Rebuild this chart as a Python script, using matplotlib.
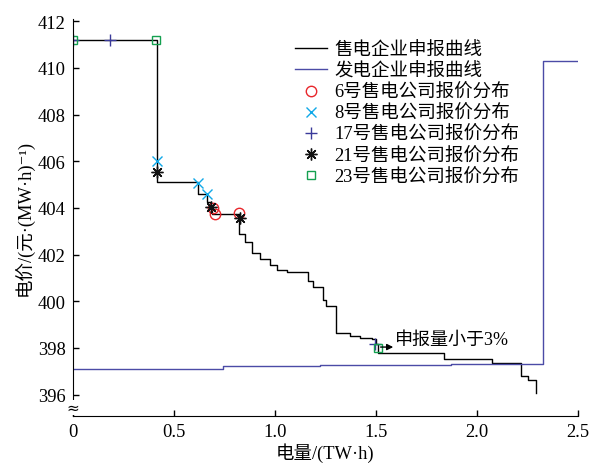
import matplotlib
matplotlib.use("Agg")
import matplotlib.pyplot as plt

plt.rcParams['font.family'] = ['Liberation Serif', 'Noto Sans CJK SC', 'DejaVu Sans']
plt.rcParams['axes.unicode_minus'] = False

# ---- data ----
# sell-side (售电企业) step curve: segment start quantity and price
sell_q = [0, 0.415, 0.62, 0.662, 0.68, 0.69, 0.823, 0.851, 0.885, 0.926, 0.975,
          1.011, 1.058, 1.165, 1.19, 1.239, 1.252, 1.302, 1.371, 1.421, 1.479,
          1.50, 1.512, 1.68, 1.837, 2.073, 2.221, 2.254, 2.292]
sell_p = [411.2, 405.1, 404.59, 404.24, 404.0, 403.76, 402.88, 402.55, 402.09, 401.83, 401.55,
          401.34, 401.26, 400.87, 400.63, 400.06, 399.80, 398.66, 398.51, 398.44, 398.37,
          398.15, 397.80, 397.77, 397.54, 397.37, 396.82, 396.62, 396.08]

# buy-side (发电企业) step curve
gen_q = [0, 0.743, 1.226, 1.87, 2.33, 2.5]
gen_p = [397.11, 397.22, 397.27, 397.33, 410.3, 410.3]

# bidding points of individual companies
c6_q = [0.695, 0.703, 0.823]
c6_p = [404.02, 403.73, 403.78]
c8_q = [0.417, 0.62, 0.662]
c8_p = [406.02, 405.09, 404.59]
c17_q = [0.0, 0.183, 1.495]
c17_p = [411.2, 411.2, 398.15]
c21_q = [0.417, 0.683, 0.827]
c21_p = [405.55, 404.06, 403.59]
c23_q = [0.0, 0.41, 1.511]
c23_p = [411.2, 411.2, 398.01]

xticks = [0, 0.5, 1.0, 1.5, 2.0, 2.5]
xticklabels = ['0', '0.5', '1.0', '1.5', '2.0', '2.5']
yticks = [396, 398, 400, 402, 404, 406, 408, 410, 412]

fig = plt.figure(figsize=(5.92, 4.64), dpi=100)
ax = fig.add_axes([0.123, 0.102, 0.853, 0.855])

ax.step(sell_q, sell_p, where='post', color='black', lw=1.0, label='售电企业申报曲线')
gx = [gen_q[0]]
gy = [gen_p[0]]
for i in range(1, len(gen_q)):
    gx += [gen_q[i], gen_q[i]]
    gy += [gen_p[i - 1], gen_p[i]]
ax.plot(gx, gy, color='#4b4ba6', lw=1.0, label='发电企业申报曲线')

ms = 7.5
ax.plot(c6_q, c6_p, ls='none', marker='o', ms=ms, mfc='none', mec='#e8262b', mew=1.0,
        label='6号售电公司报价分布')
ax.plot(c8_q, c8_p, ls='none', marker='x', ms=ms, color='#10a8e8', mew=1.0,
        label='8号售电公司报价分布')
ax.plot(c17_q, c17_p, ls='none', marker='+', ms=9, color='#3a3a9a', mew=1.0,
        label='17号售电公司报价分布')
ax.plot(c21_q, c21_p, ls='none', marker=(8, 2, 0), ms=8.5, color='#111111', mew=1.0,
        label='21号售电公司报价分布')
ax.plot(c23_q, c23_p, ls='none', marker='s', ms=5.5, mfc='none', mec='#14a050', mew=1.0,
        label='23号售电公司报价分布')

# annotation
ax.annotate('', xy=(1.6, 398.04), xytext=(1.51, 398.04),
            arrowprops=dict(arrowstyle='-|>', color='black', lw=1.0, mutation_scale=9))
ax.text(1.595, 398.37, '申报量小于3%', fontsize=13, va='center', ha='left')

ax.set_xlim(0, 2.5)
ax.set_ylim(395.1, 412.1)
ax.set_xticks(xticks)
ax.set_xticklabels(xticklabels)
ax.set_yticks(yticks)
ax.tick_params(direction='in', labelsize=13.3, length=4, width=1, pad=5)
for s in ['top', 'right']:
    ax.spines[s].set_visible(False)

ax.set_xlabel('电量/(TW·h)', fontsize=13.3, labelpad=2)
ax.set_ylabel('电价/(元·(MW·h)⁻¹)', fontsize=13.3, labelpad=2)

# axis break mark
ax.text(0, 395.45, '≈', fontsize=11, ha='center', va='center', rotation=0,
        clip_on=False, family='DejaVu Sans',
        bbox=dict(boxstyle='square,pad=0.0', fc='white', ec='none'))

ax.legend(loc='upper left', bbox_to_anchor=(0.498, 0.908), bbox_transform=fig.transFigure,
          frameon=False, fontsize=13.3, handlelength=1.75, handletextpad=0.4,
          labelspacing=0.21, borderpad=0, borderaxespad=0)

fig.savefig('out.png', dpi=100)
